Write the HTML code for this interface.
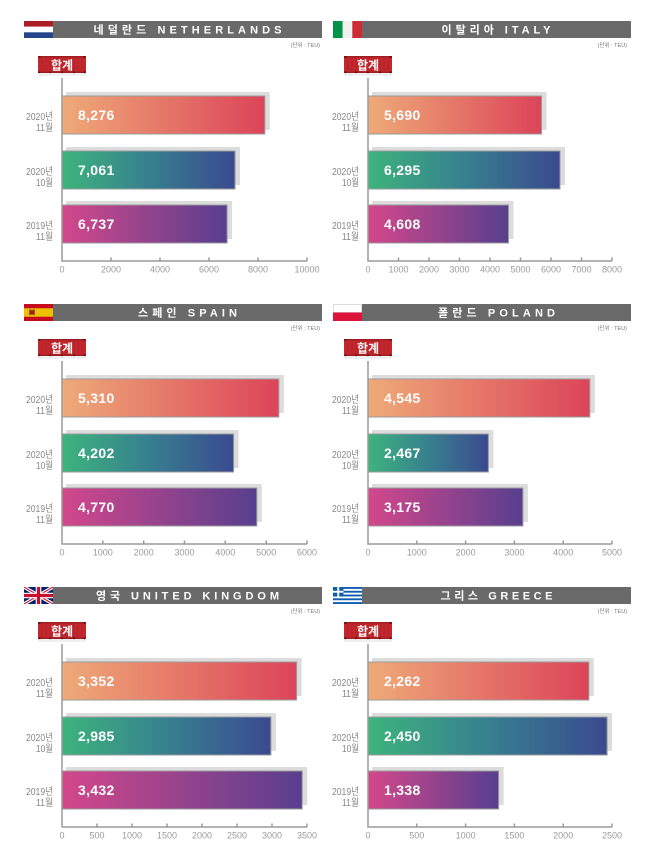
<!DOCTYPE html>
<html>
<head>
<meta charset="utf-8">
<style>
html,body{margin:0;padding:0;background:#fff;}
svg{display:block;}
.hd{font-family:"Liberation Sans","Noto Sans CJK KR",sans-serif;font-size:11px;font-weight:bold;fill:#fff;}
.un{font-family:"Liberation Sans","Noto Sans CJK KR",sans-serif;font-size:5.5px;fill:#777;}
.bd{font-family:"Liberation Sans","Noto Sans CJK KR",sans-serif;font-size:12px;font-weight:bold;fill:#fff;}
.vl{font-family:"Liberation Sans",sans-serif;font-size:14px;font-weight:bold;fill:#fff;letter-spacing:0.3px;}
.yl{font-family:"Liberation Sans","Noto Sans CJK KR",sans-serif;font-size:10px;fill:#888;}
.tk{font-family:"Liberation Sans",sans-serif;font-size:9px;fill:#9a9a9a;}
.ax{stroke:#9a9a9a;stroke-width:1.5;fill:none;}
.sh{fill:#dcdcdc;}
.b1{fill:url(#g1);stroke:#9a9a9a;stroke-width:1;}
.b2{fill:url(#g2);stroke:#9a9a9a;stroke-width:1;}
.b3{fill:url(#g3);stroke:#9a9a9a;stroke-width:1;}
</style>
</head>
<body>
<svg width="650" height="849" viewBox="0 0 650 849" xmlns="http://www.w3.org/2000/svg">
<defs>
<linearGradient id="g1" x1="0" y1="0" x2="1" y2="0"><stop offset="0" stop-color="#eeaa78"/><stop offset="1" stop-color="#dc4459"/></linearGradient>
<linearGradient id="g2" x1="0" y1="0" x2="1" y2="0"><stop offset="0" stop-color="#3db47c"/><stop offset="0.5" stop-color="#37808f"/><stop offset="1" stop-color="#3a4a8f"/></linearGradient>
<linearGradient id="g3" x1="0" y1="0" x2="1" y2="0"><stop offset="0" stop-color="#d4478b"/><stop offset="1" stop-color="#573f8e"/></linearGradient>
<g id="badge">
<rect x="0" y="17" width="48" height="3" fill="#000" opacity="0.06"/>
<rect x="0" y="0" width="48" height="17" fill="#c1272d"/>
<rect x="0" y="0" width="48" height="1.5" fill="#9e1c22"/>
<rect x="0" y="15.5" width="48" height="1.5" fill="#9e1c22"/>
<g stroke="#a82026" stroke-width="0.8" opacity="0.7">
<line x1="4" y1="2" x2="4" y2="15"/><line x1="8" y1="2" x2="8" y2="15"/><line x1="12" y1="2" x2="12" y2="15"/><line x1="16" y1="2" x2="16" y2="15"/><line x1="20" y1="2" x2="20" y2="15"/><line x1="24" y1="2" x2="24" y2="15"/><line x1="28" y1="2" x2="28" y2="15"/><line x1="32" y1="2" x2="32" y2="15"/><line x1="36" y1="2" x2="36" y2="15"/><line x1="40" y1="2" x2="40" y2="15"/><line x1="44" y1="2" x2="44" y2="15"/>
</g>
<g fill="#5a1014"><circle cx="1.5" cy="1" r="1"/><circle cx="46.5" cy="1" r="1"/><circle cx="1.5" cy="16.3" r="1"/><circle cx="12" cy="16.3" r="1"/><circle cx="24" cy="16.3" r="1"/><circle cx="36" cy="16.3" r="1"/><circle cx="46.5" cy="16.3" r="1"/></g>
</g>
<clipPath id="ukc"><rect x="24" y="587" width="29" height="17"/></clipPath>
</defs>

<!-- ================= NETHERLANDS ================= -->
<g>
<rect x="24" y="21" width="29" height="5.7" fill="#ae1c28"/>
<rect x="24" y="26.7" width="29" height="5.6" fill="#ffffff"/>
<rect x="24" y="32.3" width="29" height="5.7" fill="#21468b"/>
<rect x="53" y="21" width="269" height="17" fill="#6a6a6a"/>
<text class="hd" x="187.5" y="33.5" text-anchor="middle" textLength="188" lengthAdjust="spacing">네덜란드 NETHERLANDS</text>
<text class="un" x="320" y="47" text-anchor="end">(단위 : TEU)</text>
<use href="#badge" x="38" y="56"/>
<text class="bd" x="62" y="69.5" text-anchor="middle">합계</text>
<rect class="sh" x="66" y="92" width="203.8" height="38"/>
<rect class="sh" x="66" y="147" width="174" height="38"/>
<rect class="sh" x="66" y="201" width="166.1" height="38"/>
<rect class="b1" x="62" y="96" width="202.8" height="38"/>
<rect class="b2" x="62" y="151" width="173" height="38"/>
<rect class="b3" x="62" y="205" width="165.1" height="38"/>
<text class="vl" x="78" y="120">8,276</text>
<text class="vl" x="78" y="175">7,061</text>
<text class="vl" x="78" y="229">6,737</text>
<text class="yl" x="53" y="120" text-anchor="end" textLength="27" lengthAdjust="spacingAndGlyphs">2020년</text>
<text class="yl" x="53" y="131" text-anchor="end" textLength="17" lengthAdjust="spacingAndGlyphs">11월</text>
<text class="yl" x="53" y="175" text-anchor="end" textLength="27" lengthAdjust="spacingAndGlyphs">2020년</text>
<text class="yl" x="53" y="186" text-anchor="end" textLength="17" lengthAdjust="spacingAndGlyphs">10월</text>
<text class="yl" x="53" y="229" text-anchor="end" textLength="27" lengthAdjust="spacingAndGlyphs">2019년</text>
<text class="yl" x="53" y="240" text-anchor="end" textLength="17" lengthAdjust="spacingAndGlyphs">11월</text>
<path class="ax" d="M62 78V261H307"/>
<path class="ax" d="M111 257.5V261M160 257.5V261M209 257.5V261M258 257.5V261M307 257.5V261"/>
<text class="tk" x="62" y="272.5" text-anchor="middle">0</text>
<text class="tk" x="111" y="272.5" text-anchor="middle">2000</text>
<text class="tk" x="160" y="272.5" text-anchor="middle">4000</text>
<text class="tk" x="209" y="272.5" text-anchor="middle">6000</text>
<text class="tk" x="258" y="272.5" text-anchor="middle">8000</text>
<text class="tk" x="307" y="272.5" text-anchor="middle">10000</text>
</g>

<!-- ================= ITALY ================= -->
<g>
<rect x="333" y="21" width="9.7" height="17" fill="#009246"/>
<rect x="342.7" y="21" width="9.6" height="17" fill="#f1f1f1"/>
<rect x="352.3" y="21" width="9.7" height="17" fill="#ce2b37"/>
<rect x="362" y="21" width="269" height="17" fill="#6a6a6a"/>
<text class="hd" x="496" y="33.5" text-anchor="middle" textLength="109" lengthAdjust="spacing">이탈리아 ITALY</text>
<text class="un" x="627" y="47" text-anchor="end">(단위 : TEU)</text>
<use href="#badge" x="344" y="56"/>
<text class="bd" x="368" y="69.5" text-anchor="middle">합계</text>
<rect class="sh" x="372" y="92" width="174.5" height="38"/>
<rect class="sh" x="372" y="147" width="193" height="38"/>
<rect class="sh" x="372" y="201" width="141.5" height="38"/>
<rect class="b1" x="368" y="96" width="173.5" height="38"/>
<rect class="b2" x="368" y="151" width="192" height="38"/>
<rect class="b3" x="368" y="205" width="140.5" height="38"/>
<text class="vl" x="384" y="120">5,690</text>
<text class="vl" x="384" y="175">6,295</text>
<text class="vl" x="384" y="229">4,608</text>
<text class="yl" x="359" y="120" text-anchor="end" textLength="27" lengthAdjust="spacingAndGlyphs">2020년</text>
<text class="yl" x="359" y="131" text-anchor="end" textLength="17" lengthAdjust="spacingAndGlyphs">11월</text>
<text class="yl" x="359" y="175" text-anchor="end" textLength="27" lengthAdjust="spacingAndGlyphs">2020년</text>
<text class="yl" x="359" y="186" text-anchor="end" textLength="17" lengthAdjust="spacingAndGlyphs">10월</text>
<text class="yl" x="359" y="229" text-anchor="end" textLength="27" lengthAdjust="spacingAndGlyphs">2019년</text>
<text class="yl" x="359" y="240" text-anchor="end" textLength="17" lengthAdjust="spacingAndGlyphs">11월</text>
<path class="ax" d="M368 78V261H612"/>
<path class="ax" d="M398.5 257.5V261M429 257.5V261M459.5 257.5V261M490 257.5V261M520.5 257.5V261M551 257.5V261M581.5 257.5V261M612 257.5V261"/>
<text class="tk" x="368" y="272.5" text-anchor="middle">0</text>
<text class="tk" x="398.5" y="272.5" text-anchor="middle">1000</text>
<text class="tk" x="429" y="272.5" text-anchor="middle">2000</text>
<text class="tk" x="459.5" y="272.5" text-anchor="middle">3000</text>
<text class="tk" x="490" y="272.5" text-anchor="middle">4000</text>
<text class="tk" x="520.5" y="272.5" text-anchor="middle">5000</text>
<text class="tk" x="551" y="272.5" text-anchor="middle">6000</text>
<text class="tk" x="581.5" y="272.5" text-anchor="middle">7000</text>
<text class="tk" x="612" y="272.5" text-anchor="middle">8000</text>
</g>

<!-- ================= SPAIN ================= -->
<g transform="translate(0,283)">
<rect x="24" y="21" width="29" height="17" fill="#c60b1e"/>
<rect x="24" y="25.25" width="29" height="8.5" fill="#f1bf00"/>
<rect x="29" y="26.5" width="6" height="5.5" fill="#8a6a3a"/>
<rect x="30" y="27.5" width="4" height="3.5" fill="#ad1519"/>
<rect x="53" y="21" width="269" height="17" fill="#6a6a6a"/>
<text class="hd" x="187.5" y="33.5" text-anchor="middle" textLength="99" lengthAdjust="spacing">스페인 SPAIN</text>
<text class="un" x="320" y="47" text-anchor="end">(단위 : TEU)</text>
<use href="#badge" x="38" y="56"/>
<text class="bd" x="62" y="69.5" text-anchor="middle">합계</text>
<rect class="sh" x="66" y="92" width="217.8" height="38"/>
<rect class="sh" x="66" y="147" width="172.6" height="38"/>
<rect class="sh" x="66" y="201" width="195.8" height="38"/>
<rect class="b1" x="62" y="96" width="216.8" height="38"/>
<rect class="b2" x="62" y="151" width="171.6" height="38"/>
<rect class="b3" x="62" y="205" width="194.8" height="38"/>
<text class="vl" x="78" y="120">5,310</text>
<text class="vl" x="78" y="175">4,202</text>
<text class="vl" x="78" y="229">4,770</text>
<text class="yl" x="53" y="120" text-anchor="end" textLength="27" lengthAdjust="spacingAndGlyphs">2020년</text>
<text class="yl" x="53" y="131" text-anchor="end" textLength="17" lengthAdjust="spacingAndGlyphs">11월</text>
<text class="yl" x="53" y="175" text-anchor="end" textLength="27" lengthAdjust="spacingAndGlyphs">2020년</text>
<text class="yl" x="53" y="186" text-anchor="end" textLength="17" lengthAdjust="spacingAndGlyphs">10월</text>
<text class="yl" x="53" y="229" text-anchor="end" textLength="27" lengthAdjust="spacingAndGlyphs">2019년</text>
<text class="yl" x="53" y="240" text-anchor="end" textLength="17" lengthAdjust="spacingAndGlyphs">11월</text>
<path class="ax" d="M62 78V261H307"/>
<path class="ax" d="M102.8 257.5V261M143.7 257.5V261M184.5 257.5V261M225.3 257.5V261M266.2 257.5V261M307 257.5V261"/>
<text class="tk" x="62" y="272.5" text-anchor="middle">0</text>
<text class="tk" x="102.8" y="272.5" text-anchor="middle">1000</text>
<text class="tk" x="143.7" y="272.5" text-anchor="middle">2000</text>
<text class="tk" x="184.5" y="272.5" text-anchor="middle">3000</text>
<text class="tk" x="225.3" y="272.5" text-anchor="middle">4000</text>
<text class="tk" x="266.2" y="272.5" text-anchor="middle">5000</text>
<text class="tk" x="307" y="272.5" text-anchor="middle">6000</text>
</g>

<!-- ================= POLAND ================= -->
<g transform="translate(0,283)">
<rect x="333.5" y="21.5" width="28" height="8" fill="#ffffff" stroke="#dddddd" stroke-width="1"/>
<rect x="333" y="29.5" width="29" height="8.5" fill="#dc143c"/>
<rect x="362" y="21" width="269" height="17" fill="#6a6a6a"/>
<text class="hd" x="496.5" y="33.5" text-anchor="middle" textLength="117" lengthAdjust="spacing">폴란드 POLAND</text>
<text class="un" x="627" y="47" text-anchor="end">(단위 : TEU)</text>
<use href="#badge" x="344" y="56"/>
<text class="bd" x="368" y="69.5" text-anchor="middle">합계</text>
<rect class="sh" x="372" y="92" width="222.8" height="38"/>
<rect class="sh" x="372" y="147" width="121.4" height="38"/>
<rect class="sh" x="372" y="201" width="155.9" height="38"/>
<rect class="b1" x="368" y="96" width="221.8" height="38"/>
<rect class="b2" x="368" y="151" width="120.4" height="38"/>
<rect class="b3" x="368" y="205" width="154.9" height="38"/>
<text class="vl" x="384" y="120">4,545</text>
<text class="vl" x="384" y="175">2,467</text>
<text class="vl" x="384" y="229">3,175</text>
<text class="yl" x="359" y="120" text-anchor="end" textLength="27" lengthAdjust="spacingAndGlyphs">2020년</text>
<text class="yl" x="359" y="131" text-anchor="end" textLength="17" lengthAdjust="spacingAndGlyphs">11월</text>
<text class="yl" x="359" y="175" text-anchor="end" textLength="27" lengthAdjust="spacingAndGlyphs">2020년</text>
<text class="yl" x="359" y="186" text-anchor="end" textLength="17" lengthAdjust="spacingAndGlyphs">10월</text>
<text class="yl" x="359" y="229" text-anchor="end" textLength="27" lengthAdjust="spacingAndGlyphs">2019년</text>
<text class="yl" x="359" y="240" text-anchor="end" textLength="17" lengthAdjust="spacingAndGlyphs">11월</text>
<path class="ax" d="M368 78V261H612"/>
<path class="ax" d="M416.8 257.5V261M465.6 257.5V261M514.4 257.5V261M563.2 257.5V261M612 257.5V261"/>
<text class="tk" x="368" y="272.5" text-anchor="middle">0</text>
<text class="tk" x="416.8" y="272.5" text-anchor="middle">1000</text>
<text class="tk" x="465.6" y="272.5" text-anchor="middle">2000</text>
<text class="tk" x="514.4" y="272.5" text-anchor="middle">3000</text>
<text class="tk" x="563.2" y="272.5" text-anchor="middle">4000</text>
<text class="tk" x="612" y="272.5" text-anchor="middle">5000</text>
</g>

<!-- ================= UNITED KINGDOM ================= -->
<g clip-path="url(#ukc)">
<rect x="24" y="587" width="29" height="17" fill="#012169"/>
<path d="M24 587L53 604M53 587L24 604" stroke="#ffffff" stroke-width="3.4"/>
<path d="M24 587L53 604M53 587L24 604" stroke="#c8102e" stroke-width="1.1"/>
<path d="M38.5 587V604M24 595.5H53" stroke="#ffffff" stroke-width="5.6"/>
<path d="M38.5 587V604M24 595.5H53" stroke="#c8102e" stroke-width="3.2"/>
</g>
<g transform="translate(0,566)">
<rect x="53" y="21" width="269" height="17" fill="#6a6a6a"/>
<text class="hd" x="187.5" y="33.5" text-anchor="middle" textLength="183" lengthAdjust="spacing">영국 UNITED KINGDOM</text>
<text class="un" x="320" y="47" text-anchor="end">(단위 : TEU)</text>
<use href="#badge" x="38" y="56"/>
<text class="bd" x="62" y="69.5" text-anchor="middle">합계</text>
<rect class="sh" x="66" y="92" width="235.6" height="38"/>
<rect class="sh" x="66" y="147" width="209.9" height="38"/>
<rect class="sh" x="66" y="201" width="241.2" height="38"/>
<rect class="b1" x="62" y="96" width="234.6" height="38"/>
<rect class="b2" x="62" y="151" width="208.9" height="38"/>
<rect class="b3" x="62" y="205" width="240.2" height="38"/>
<text class="vl" x="78" y="120">3,352</text>
<text class="vl" x="78" y="175">2,985</text>
<text class="vl" x="78" y="229">3,432</text>
<text class="yl" x="53" y="120" text-anchor="end" textLength="27" lengthAdjust="spacingAndGlyphs">2020년</text>
<text class="yl" x="53" y="131" text-anchor="end" textLength="17" lengthAdjust="spacingAndGlyphs">11월</text>
<text class="yl" x="53" y="175" text-anchor="end" textLength="27" lengthAdjust="spacingAndGlyphs">2020년</text>
<text class="yl" x="53" y="186" text-anchor="end" textLength="17" lengthAdjust="spacingAndGlyphs">10월</text>
<text class="yl" x="53" y="229" text-anchor="end" textLength="27" lengthAdjust="spacingAndGlyphs">2019년</text>
<text class="yl" x="53" y="240" text-anchor="end" textLength="17" lengthAdjust="spacingAndGlyphs">11월</text>
<path class="ax" d="M62 78V261H307"/>
<path class="ax" d="M97 257.5V261M132 257.5V261M167 257.5V261M202 257.5V261M237 257.5V261M272 257.5V261M307 257.5V261"/>
<text class="tk" x="62" y="272.5" text-anchor="middle">0</text>
<text class="tk" x="97" y="272.5" text-anchor="middle">500</text>
<text class="tk" x="132" y="272.5" text-anchor="middle">1000</text>
<text class="tk" x="167" y="272.5" text-anchor="middle">1500</text>
<text class="tk" x="202" y="272.5" text-anchor="middle">2000</text>
<text class="tk" x="237" y="272.5" text-anchor="middle">2500</text>
<text class="tk" x="272" y="272.5" text-anchor="middle">3000</text>
<text class="tk" x="307" y="272.5" text-anchor="middle">3500</text>
</g>

<!-- ================= GREECE ================= -->
<g transform="translate(0,566)">
<rect x="333" y="21" width="29" height="17" fill="#ffffff"/>
<rect x="333" y="21" width="29" height="1.89" fill="#0d5eaf"/>
<rect x="333" y="24.78" width="29" height="1.89" fill="#0d5eaf"/>
<rect x="333" y="28.56" width="29" height="1.89" fill="#0d5eaf"/>
<rect x="333" y="32.33" width="29" height="1.89" fill="#0d5eaf"/>
<rect x="333" y="36.11" width="29" height="1.89" fill="#0d5eaf"/>
<rect x="333" y="21" width="10.5" height="9.45" fill="#0d5eaf"/>
<rect x="337.3" y="21" width="1.9" height="9.45" fill="#ffffff"/>
<rect x="333" y="24.78" width="10.5" height="1.89" fill="#ffffff"/>
<rect x="362" y="21" width="269" height="17" fill="#6a6a6a"/>
<text class="hd" x="496.5" y="33.5" text-anchor="middle" textLength="112" lengthAdjust="spacing">그리스 GREECE</text>
<text class="un" x="627" y="47" text-anchor="end">(단위 : TEU)</text>
<use href="#badge" x="344" y="56"/>
<text class="bd" x="368" y="69.5" text-anchor="middle">합계</text>
<rect class="sh" x="372" y="92" width="221.8" height="38"/>
<rect class="sh" x="372" y="147" width="240.1" height="38"/>
<rect class="sh" x="372" y="201" width="131.6" height="38"/>
<rect class="b1" x="368" y="96" width="220.8" height="38"/>
<rect class="b2" x="368" y="151" width="239.1" height="38"/>
<rect class="b3" x="368" y="205" width="130.6" height="38"/>
<text class="vl" x="384" y="120">2,262</text>
<text class="vl" x="384" y="175">2,450</text>
<text class="vl" x="384" y="229">1,338</text>
<text class="yl" x="359" y="120" text-anchor="end" textLength="27" lengthAdjust="spacingAndGlyphs">2020년</text>
<text class="yl" x="359" y="131" text-anchor="end" textLength="17" lengthAdjust="spacingAndGlyphs">11월</text>
<text class="yl" x="359" y="175" text-anchor="end" textLength="27" lengthAdjust="spacingAndGlyphs">2020년</text>
<text class="yl" x="359" y="186" text-anchor="end" textLength="17" lengthAdjust="spacingAndGlyphs">10월</text>
<text class="yl" x="359" y="229" text-anchor="end" textLength="27" lengthAdjust="spacingAndGlyphs">2019년</text>
<text class="yl" x="359" y="240" text-anchor="end" textLength="17" lengthAdjust="spacingAndGlyphs">11월</text>
<path class="ax" d="M368 78V261H612"/>
<path class="ax" d="M416.8 257.5V261M465.6 257.5V261M514.4 257.5V261M563.2 257.5V261M612 257.5V261"/>
<text class="tk" x="368" y="272.5" text-anchor="middle">0</text>
<text class="tk" x="416.8" y="272.5" text-anchor="middle">500</text>
<text class="tk" x="465.6" y="272.5" text-anchor="middle">1000</text>
<text class="tk" x="514.4" y="272.5" text-anchor="middle">1500</text>
<text class="tk" x="563.2" y="272.5" text-anchor="middle">2000</text>
<text class="tk" x="612" y="272.5" text-anchor="middle">2500</text>
</g>
</svg>
</body>
</html>
